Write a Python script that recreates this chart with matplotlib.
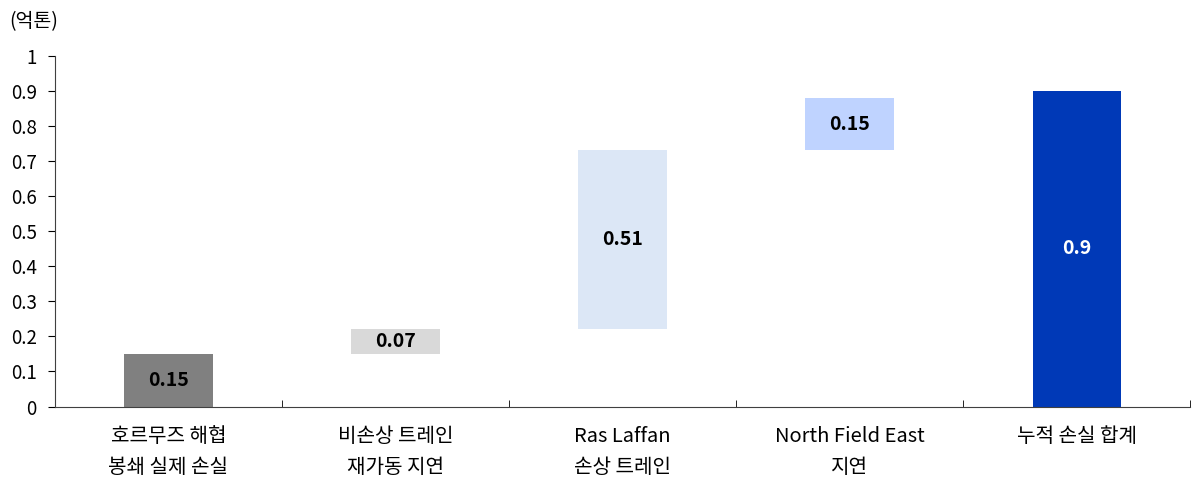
import matplotlib
matplotlib.use("Agg")
import matplotlib.pyplot as plt
import numpy as np

plt.rcParams['font.family'] = ['Noto Sans CJK KR', 'DejaVu Sans']

categories = ["호르무즈 해협\n봉쇄 실제 손실", "비손상 트레인\n재가동 지연", "Ras Laffan\n손상 트레인",
              "North Field East\n지연", "누적 손실 합계"]
bottoms = [0.0, 0.15, 0.22, 0.73, 0.0]
heights = [0.15, 0.07, 0.51, 0.15, 0.9]
labels = ["0.15", "0.07", "0.51", "0.15", "0.9"]
colors = ["#808080", "#D9D9D9", "#DCE7F6", "#BFD3FF", "#0039B7"]
text_colors = ["black", "black", "black", "black", "white"]

fig = plt.figure(figsize=(11.94, 4.84), dpi=100)
ax = fig.add_axes([0.046, 0.16, 0.951, 0.725])

x = np.arange(len(categories))
ax.bar(x, heights, bottom=bottoms, width=0.39, color=colors)
for xi, b, h, lab, tc in zip(x, bottoms, heights, labels, text_colors):
    ax.text(xi, b + h / 2, lab, ha="center", va="center", fontsize=14,
            fontweight="bold", color=tc)

ax.set_xlim(-0.5, len(categories) - 0.5)
ax.set_ylim(0, 1)
ax.set_yticks(np.arange(0, 1.01, 0.1))
ax.set_yticklabels(["0", "0.1", "0.2", "0.3", "0.4", "0.5", "0.6", "0.7", "0.8", "0.9", "1"])
ax.tick_params(axis="y", labelsize=13.5, length=5, direction="out", pad=8)

ax.set_xticks(x)
ax.set_xticklabels(categories, fontsize=14.5, linespacing=1.6)
ax.tick_params(axis="x", length=0, pad=14)
ax.set_xticks(np.arange(0.5, len(categories), 1), minor=True)
ax.tick_params(axis="x", which="minor", length=5, direction="in")

for s in ["top", "right"]:
    ax.spines[s].set_visible(False)
ax.spines["left"].set_color("#404040")
ax.spines["bottom"].set_color("#404040")

fig.text(0.008, 0.955, "(억톤)", fontsize=14, ha="left", va="center")

fig.savefig("out.png", dpi=100)
